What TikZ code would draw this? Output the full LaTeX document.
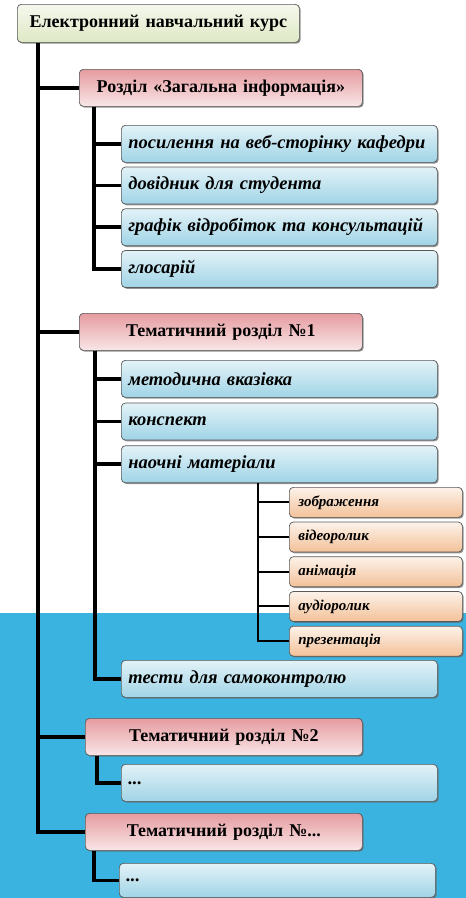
\documentclass[tikz,border=0pt]{standalone}
\usepackage{fontspec}
\setmainfont{Liberation Serif}
\usetikzlibrary{positioning,shadows}
\definecolor{bgblue}{RGB}{58,179,224}
\definecolor{rootgreen}{RGB}{222,232,196}
\definecolor{partred}{RGB}{230,156,160}
\definecolor{itemblue}{RGB}{160,212,230}
\definecolor{mediaorange}{RGB}{243,193,152}

\begin{document}
\begin{tikzpicture}[x=1pt, y=-1pt]
    \tikzstyle{box} = [rectangle, rounded corners=4pt, draw=black!65, line width=0.7pt, inner ysep=0pt, drop shadow={shadow xshift=1.3pt, shadow yshift=-1.3pt, fill=black!60, opacity=0.7}]
    \tikzstyle{rootbox} = [box, anchor=north west, text width=266pt, inner xsep=8pt, minimum height=38pt, align=center, top color=white!70!rootgreen, bottom color=rootgreen, font=\fontsize{18}{21}\selectfont\bfseries]
    \tikzstyle{part} = [box, anchor=north west, inner xsep=6pt, minimum height=37pt, align=center, top color=partred, bottom color=white!75!partred, font=\fontsize{18}{21}\selectfont\bfseries]
    \tikzstyle{item} = [box, text width=302pt, inner xsep=7pt, minimum height=37pt, align=left, top color=white!70!itemblue, bottom color=itemblue, font=\fontsize{18.5}{21}\selectfont\bfseries\itshape]
    \tikzstyle{media} = [box, text width=155pt, inner xsep=9pt, minimum height=30pt, align=left, top color=white!80!mediaorange, bottom color=mediaorange, font=\fontsize{15}{17}\selectfont\bfseries\itshape]
    \tikzstyle{tree} = [draw=black, line width=3.6pt]

    \useasboundingbox (0,0) rectangle (466,898);
    \fill[bgblue] (0,613) rectangle (466,898);

    % course and sections
    \node [rootbox] (course) at (17,4) {Електронний навчальний курс};
    \node [part, text width=271pt] (general) at (79,69) {Розділ «Загальна інформація»};
    \node [part, text width=271pt] (topic1) at (79,313) {Тематичний розділ №1};
    \node [part, text width=265pt] (topic2) at (85,718) {Тематичний розділ №2};
    \node [part, text width=265pt] (topicn) at (85,813) {Тематичний розділ №...};

    % general information
    \node [item, anchor=north west] (link) at (121,125) {посилення на веб-сторінку кафедри};
    \node [item, below=4pt of link.south west, anchor=north west] (guide) {довідник для студента};
    \node [item, below=4pt of guide.south west, anchor=north west] (schedule) {графік відробіток та консультацій};
    \node [item, below=4pt of schedule.south west, anchor=north west] (glossary) {глосарій};

    % topic 1
    \node [item, anchor=north west] (method) at (121,360) {методична вказівка};
    \node [item, below=5pt of method.south west, anchor=north west] (notes) {конспект};
    \node [item, below=5pt of notes.south west, anchor=north west] (visual) {наочні матеріали};
    \node [media, anchor=north west] (image) at (289,487) {зображення};
    \node [media, below=4pt of image.south west, anchor=north west] (video) {відеоролик};
    \node [media, below=4pt of video.south west, anchor=north west] (anim) {анімація};
    \node [media, below=4pt of anim.south west, anchor=north west] (audio) {аудіоролик};
    \node [media, below=4pt of audio.south west, anchor=north west] (slides) {презентація};
    \node [item, anchor=north west] (tests) at (121,660) {тести для самоконтролю};

    % other topics
    \node [item, anchor=north west] (dots2) at (121,764) {...};
    \node [item, anchor=north west, minimum height=34pt] (dotsn) at (119,863) {...};

    % tree lines
    \foreach \sec in {general,topic1,topic2,topicn}
        \draw [tree] ([xshift=21pt]course.south west) |- (\sec.west);
    \foreach \it in {link,guide,schedule,glossary}
        \draw [tree] ([xshift=15pt]general.south west) |- (\it.west);
    \foreach \it in {method,notes,visual,tests}
        \draw [tree] ([xshift=16pt]topic1.south west) |- (\it.west);
    \foreach \it in {image,video,anim,audio,slides}
        \draw [tree, line width=2pt] ([xshift=137pt]visual.south west) |- (\it.west);
    \draw [tree] ([xshift=12pt]topic2.south west) |- (dots2.west);
    \draw [tree] ([xshift=9pt]topicn.south west) |- (dotsn.west);
\end{tikzpicture}
\end{document}
